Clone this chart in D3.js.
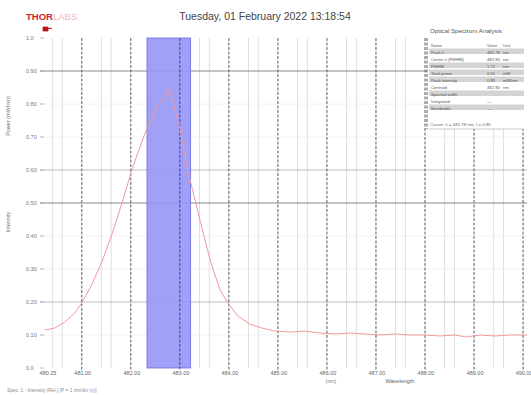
<!DOCTYPE html>
<html><head><meta charset="utf-8">
<script src="https://cdn.jsdelivr.net/npm/d3@7"></script>
<style>body{margin:0;background:#fff}svg{display:block;font-family:"Liberation Sans",Arial,sans-serif}</style>
</head><body><svg id="c" width="531" height="395"></svg>
<script>
// ---- data ----
const titleText = "Tuesday, 01 February 2022 13:18:54";
const xDomain = [480.25, 490.08];
const xMajorTicks = [481, 482, 483, 484, 485, 486, 487, 488, 489, 490];
const yTicks = [0, 0.1, 0.2, 0.3, 0.4, 0.5, 0.6, 0.7, 0.8, 0.9, 1.0];
const wavelength = [480.25,480.45,480.65,480.86,481.0,481.2,481.41,481.63,481.84,482.02,482.29,482.53,482.78,483.0,483.16,483.31,483.47,483.63,483.82,483.98,484.18,484.43,484.67,484.94,485.25,485.55,485.86,486.16,486.47,486.78,487.08,487.39,487.69,488.0,488.31,488.61,488.84,489.12,489.43,489.73,490.08];
const intensity  = [0.115,0.121,0.139,0.167,0.197,0.252,0.321,0.412,0.509,0.600,0.712,0.788,0.848,0.727,0.600,0.509,0.412,0.321,0.236,0.197,0.158,0.133,0.121,0.112,0.109,0.112,0.106,0.103,0.106,0.103,0.100,0.103,0.100,0.100,0.097,0.100,0.094,0.100,0.097,0.100,0.100];
const bandRange = [482.33, 483.22];
const tableTitle = "Optical Spectrum Analysis";
const tableHeader = ["Name", "Value", "Unit"];
const tableNames  = ["Peak \u03bb", "Center \u03bb (FWHM)", "FWHM", "Total power", "Peak intensity", "Centroid", "Spectral width", "Integrated", "Bandwidth"];
const tableValues = ["482.78", "482.80", "1.72", "0.51", "0.85", "482.90", "", "—", "—"];
const tableUnits  = ["nm", "nm", "nm", "mW", "mW/nm", "nm", "", "", ""];
const cursorText = "Cursor: \u03bb = 482.78 nm, I = 0.85";
const footerText = "Spec. 1 - Intensity (Rel.) [P = 1 nm/div (+)]";

// ---- drawing ----
const svg = d3.select("#c");
svg.append("rect").attr("width",531).attr("height",395).attr("fill","#fff");
const x = d3.scaleLinear().domain(xDomain).range([45, 527]);
const y = d3.scaleLinear().domain([0, 1]).range([368, 38]);

const grid = svg.append("g");
// minor vertical lines
const minors = [];
for (let i = -1; i < xMajorTicks.length; i++) {
  const a = i < 0 ? xMajorTicks[0] - 1 : xMajorTicks[i];
  [0.4, 0.6].forEach(f => { const v = a + f; if (v > xDomain[0] && v < xDomain[1]) minors.push(v); });
}
grid.selectAll(".mv").data(minors).join("line")
  .attr("x1", d => x(d)).attr("x2", d => x(d)).attr("y1", 38).attr("y2", 368)
  .attr("stroke", "#dadada").attr("stroke-width", 0.9);
// horizontal grid
const hStyle = v => {
  const k = Math.round(v * 10);
  if (k === 9 || k === 5) return ["#8a8a8a", 1];
  if (k === 6 || k === 2) return ["#bdbdbd", 1];
  return ["#efefef", 0.8];
};
grid.selectAll(".hg").data(yTicks.filter(v => v > 0 && v < 1)).join("line")
  .attr("x1", 40).attr("x2", 527).attr("y1", d => y(d)).attr("y2", d => y(d))
  .attr("stroke", d => hStyle(d)[0]).attr("stroke-width", d => hStyle(d)[1]);
// major vertical dashed lines
grid.selectAll(".vg").data(xMajorTicks).join("line")
  .attr("x1", d => x(d)).attr("x2", d => x(d)).attr("y1", 38).attr("y2", 370)
  .attr("stroke", "#5a5a5a").attr("stroke-width", 1).attr("stroke-dasharray", "3,1.5");

// band
svg.append("rect")
  .attr("x", x(bandRange[0])).attr("y", 38)
  .attr("width", x(bandRange[1]) - x(bandRange[0])).attr("height", 330)
  .attr("fill", "rgb(150,150,246)").attr("fill-opacity", 0.9)
  .attr("stroke", "#6b6be6").attr("stroke-width", 0.8);
svg.selectAll(".bv").data(xMajorTicks.filter(v => v > bandRange[0] && v < bandRange[1])).join("line")
  .attr("x1", d => x(d)).attr("x2", d => x(d)).attr("y1", 38).attr("y2", 368)
  .attr("stroke", "#4040cc").attr("stroke-width", 1).attr("stroke-dasharray", "3,1.5");

// curve
const pts = wavelength.map((w, i) => [w, intensity[i]]);
svg.append("path").datum(pts)
  .attr("d", d3.line().x(d => x(d[0])).y(d => y(d[1])))
  .attr("fill", "none").attr("stroke", "#f09a9a").attr("stroke-width", 1);

// y tick labels
const fmtY = v => (v === 0 || v === 1) ? d3.format(".1f")(v) : d3.format(".2f")(v);
svg.selectAll(".yl").data(yTicks).join("text")
  .attr("x", 26).attr("y", d => y(d) + 2).attr("font-size", 5.5).attr("fill", "#777")
  .text(fmtY);
svg.selectAll(".yt").data(yTicks).join("line")
  .attr("x1", 40).attr("x2", 44).attr("y1", d => y(d)).attr("y2", d => y(d))
  .attr("stroke", "#aaa").attr("stroke-width", 0.8);

// x tick labels
const xLabelTicks = [xDomain[0], ...xMajorTicks];
svg.selectAll(".xl").data(xLabelTicks).join("text")
  .attr("x", (d, i) => i === 0 ? x(d) + 3 : x(d) + 1).attr("y", 375)
  .attr("text-anchor", "middle").attr("font-size", 5.5).attr("fill", "#666")
  .text(d => d3.format(".2f")(d));
svg.append("text").attr("x", x(xMajorTicks[5]) + 4).attr("y", 383).attr("text-anchor", "middle")
  .attr("font-size", 5).attr("fill", "#777").text("(nm)");
svg.append("text").attr("x", 400).attr("y", 383).attr("text-anchor", "middle")
  .attr("font-size", 5.5).attr("fill", "#666").text("Wavelength");

// y axis titles
svg.append("text").attr("transform", "translate(10,116) rotate(-90)").attr("text-anchor", "middle")
  .attr("font-size", 5.5).attr("fill", "#777").text("Power (mW/nm)");
svg.append("text").attr("transform", "translate(10,222) rotate(-90)").attr("text-anchor", "middle")
  .attr("font-size", 5.5).attr("fill", "#777").text("Intensity");

// footer
svg.append("text").attr("x", 7).attr("y", 392).attr("font-size", 4.8).attr("fill", "#888").text(footerText);

// title + logo
svg.append("text").attr("x", 265).attr("y", 20).attr("text-anchor", "middle")
  .attr("font-size", 10.5).attr("fill", "#444").text(titleText);
const logo = svg.append("text").attr("x", 26).attr("y", 20).attr("font-size", 9.5).attr("font-weight", "bold");
logo.append("tspan").attr("fill", "#d0202a").text("THOR");
logo.append("tspan").attr("fill", "#f3b4b8").attr("font-weight", "normal").text("LABS");
svg.append("path").attr("d", "M43,27 h5 v4 h-5 z M48,29 q2,-2 4,0").attr("fill", "#c0101c").attr("stroke", "#c0101c").attr("stroke-width", 0.8);

// table
const tx = 427, tw = 100;
const tg = svg.append("g");
tg.append("rect").attr("x", tx).attr("y", 25).attr("width", tw).attr("height", 104).attr("fill", "#fff");
tg.append("text").attr("x", tx + 3).attr("y", 33).attr("font-size", 6.2).attr("fill", "#555").text(tableTitle);
tg.append("line").attr("x1", tx).attr("x2", tx).attr("y1", 38).attr("y2", 129).attr("stroke", "#5a5a5a").attr("stroke-dasharray", "3,1.5");
const rowH = 7, row0 = 42;
const hdr = [tx + 4, tx + 60, tx + 76];
tableHeader.forEach((h, i) => tg.append("text").attr("x", hdr[i]).attr("y", row0 + 4.5).attr("font-size", 4.2).attr("fill", "#666").text(h));
tg.selectAll(".rbg").data(tableNames).join("rect")
  .attr("x", tx + 2).attr("y", (d, i) => row0 + rowH * (i + 1) - 0.5).attr("width", tw - 5).attr("height", rowH - 1.5)
  .attr("fill", (d, i) => (i % 2 === 0 || i === 3) ? "#d4d4d4" : "#fff");
tg.selectAll(".rn").data(tableNames).join("text")
  .attr("x", hdr[0]).attr("y", (d, i) => row0 + rowH * (i + 1) + 4.5).attr("font-size", 4.2).attr("fill", "#555").text(d => d);
tg.selectAll(".rv").data(tableValues).join("text")
  .attr("x", hdr[1]).attr("y", (d, i) => row0 + rowH * (i + 1) + 4.5).attr("font-size", 4.2).attr("fill", "#555").text(d => d);
tg.selectAll(".ru").data(tableUnits).join("text")
  .attr("x", hdr[2]).attr("y", (d, i) => row0 + rowH * (i + 1) + 4.5).attr("font-size", 4.2).attr("fill", "#555").text(d => d);
tg.append("text").attr("x", tx + 3).attr("y", 126).attr("font-size", 4.4).attr("fill", "#666").text(cursorText);
tg.append("line").attr("x1", tx + 2).attr("x2", tx + 97).attr("y1", 129).attr("y2", 129).attr("stroke", "#bbb").attr("stroke-width", 0.8);
</script></body></html>
